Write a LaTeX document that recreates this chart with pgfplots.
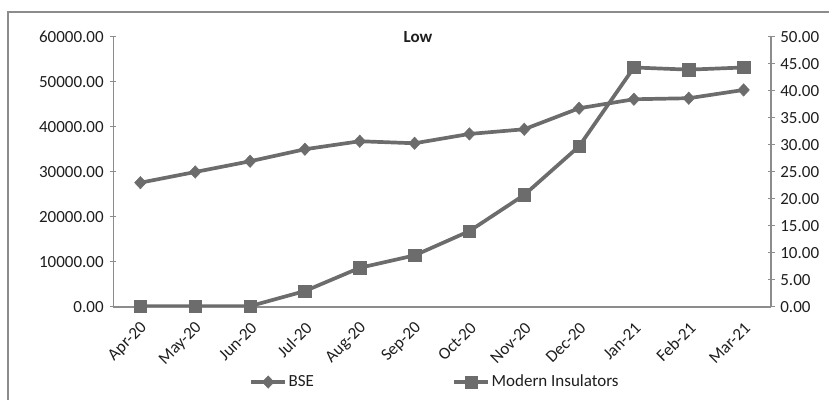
\documentclass[border=0pt]{standalone}
\usepackage{pgfplots}
\pgfplotsset{compat=1.18}
\usepackage{fontspec}
\setmainfont{Carlito}
\definecolor{linec}{RGB}{108,108,108}
\definecolor{axc}{RGB}{140,140,140}
\definecolor{txt}{RGB}{30,30,30}
\begin{document}
\fontsize{17bp}{20bp}\selectfont
\begin{tikzpicture}
\useasboundingbox (0,0) rectangle (829bp,400bp);
\draw[axc, line width=1.5bp] (8bp,-2bp) -- (8bp,388bp) -- (832bp,388bp);
\node[font=\bfseries, text=txt] at (418bp,363bp) {Low};
\pgfplotsset{
  myaxis/.style={
    scale only axis, width=658bp, height=270bp,
    at={(113bp,93.3bp)}, anchor=south west,
    xmin=-0.5, xmax=11.5, ymin=0,
    tick align=outside,
    /pgf/number format/assume math mode=true,
    ticklabel style={text=txt, font=\fontsize{17bp}{20bp}\selectfont},
    y tick label style={/pgf/number format/.cd, fixed, fixed zerofill, precision=2, 1000 sep={}},
    scaled y ticks=false,
    major tick length=7bp,
    every tick/.style={axc, line width=1bp},
  },
  bse/.style={linec, line width=3.7bp, mark=diamond*, mark size=6.2bp, mark options={solid, xscale=1.25, fill=linec, draw=linec, line width=0.5bp}},
  mi/.style={linec, line width=3.7bp, mark=square*, mark size=6.2bp, mark options={solid, fill=linec, draw=linec, line width=0.5bp}},
}
\begin{axis}[myaxis,
  ymax=60000,
  axis x line=bottom, axis y line=left,
  axis line style={-, axc, line width=1bp},
  x axis line style={line width=2bp},
  xtick={0,...,11},
  xticklabels={Apr-20,May-20,Jun-20,Jul-20,Aug-20,Sep-20,Oct-20,Nov-20,Dec-20,Jan-21,Feb-21,Mar-21},
  x tick style={draw=none},
  xticklabel style={xshift=8bp, yshift=-11bp, rotate=45, anchor=east},
  extra x ticks={-0.5,0.5,...,11.5},
  extra x tick labels={},
  extra x tick style={x tick style={axc, line width=1.5bp}, major tick length=7bp},
  ytick={0,10000,...,60000},
  legend columns=2,
  legend style={at={(0.489,-0.279)}, anchor=center, draw=none, fill=none,
    font=\fontsize{17bp}{20bp}\selectfont, text=txt,
    nodes={inner sep=1.5bp},
    /tikz/every even column/.append style={column sep=137bp}},
  legend image code/.code={\draw[mark repeat=2, mark phase=2, #1] plot coordinates {(0bp,0bp) (17bp,0bp) (34bp,0bp)};},
]
\addplot[bse] coordinates {
(0,27560) (1,29940) (2,32320) (3,34990) (4,36770) (5,36320)
(6,38390) (7,39430) (8,44100) (9,46100) (10,46330) (11,48170)};
\addlegendentry{BSE}
\addlegendimage{mi}
\addlegendentry{Modern Insulators}
\end{axis}
\begin{axis}[myaxis,
  ymax=50,
  axis x line=none, axis y line=right,
  axis line style={-, axc, line width=2bp},
  ytick={0,5,...,50},
]
\addplot[mi] coordinates {
(0,0.1) (1,0.1) (2,0.1) (3,2.9) (4,7.2) (5,9.5)
(6,14.0) (7,20.7) (8,29.7) (9,44.3) (10,43.9) (11,44.3)};
\end{axis}
\end{tikzpicture}
\end{document}
